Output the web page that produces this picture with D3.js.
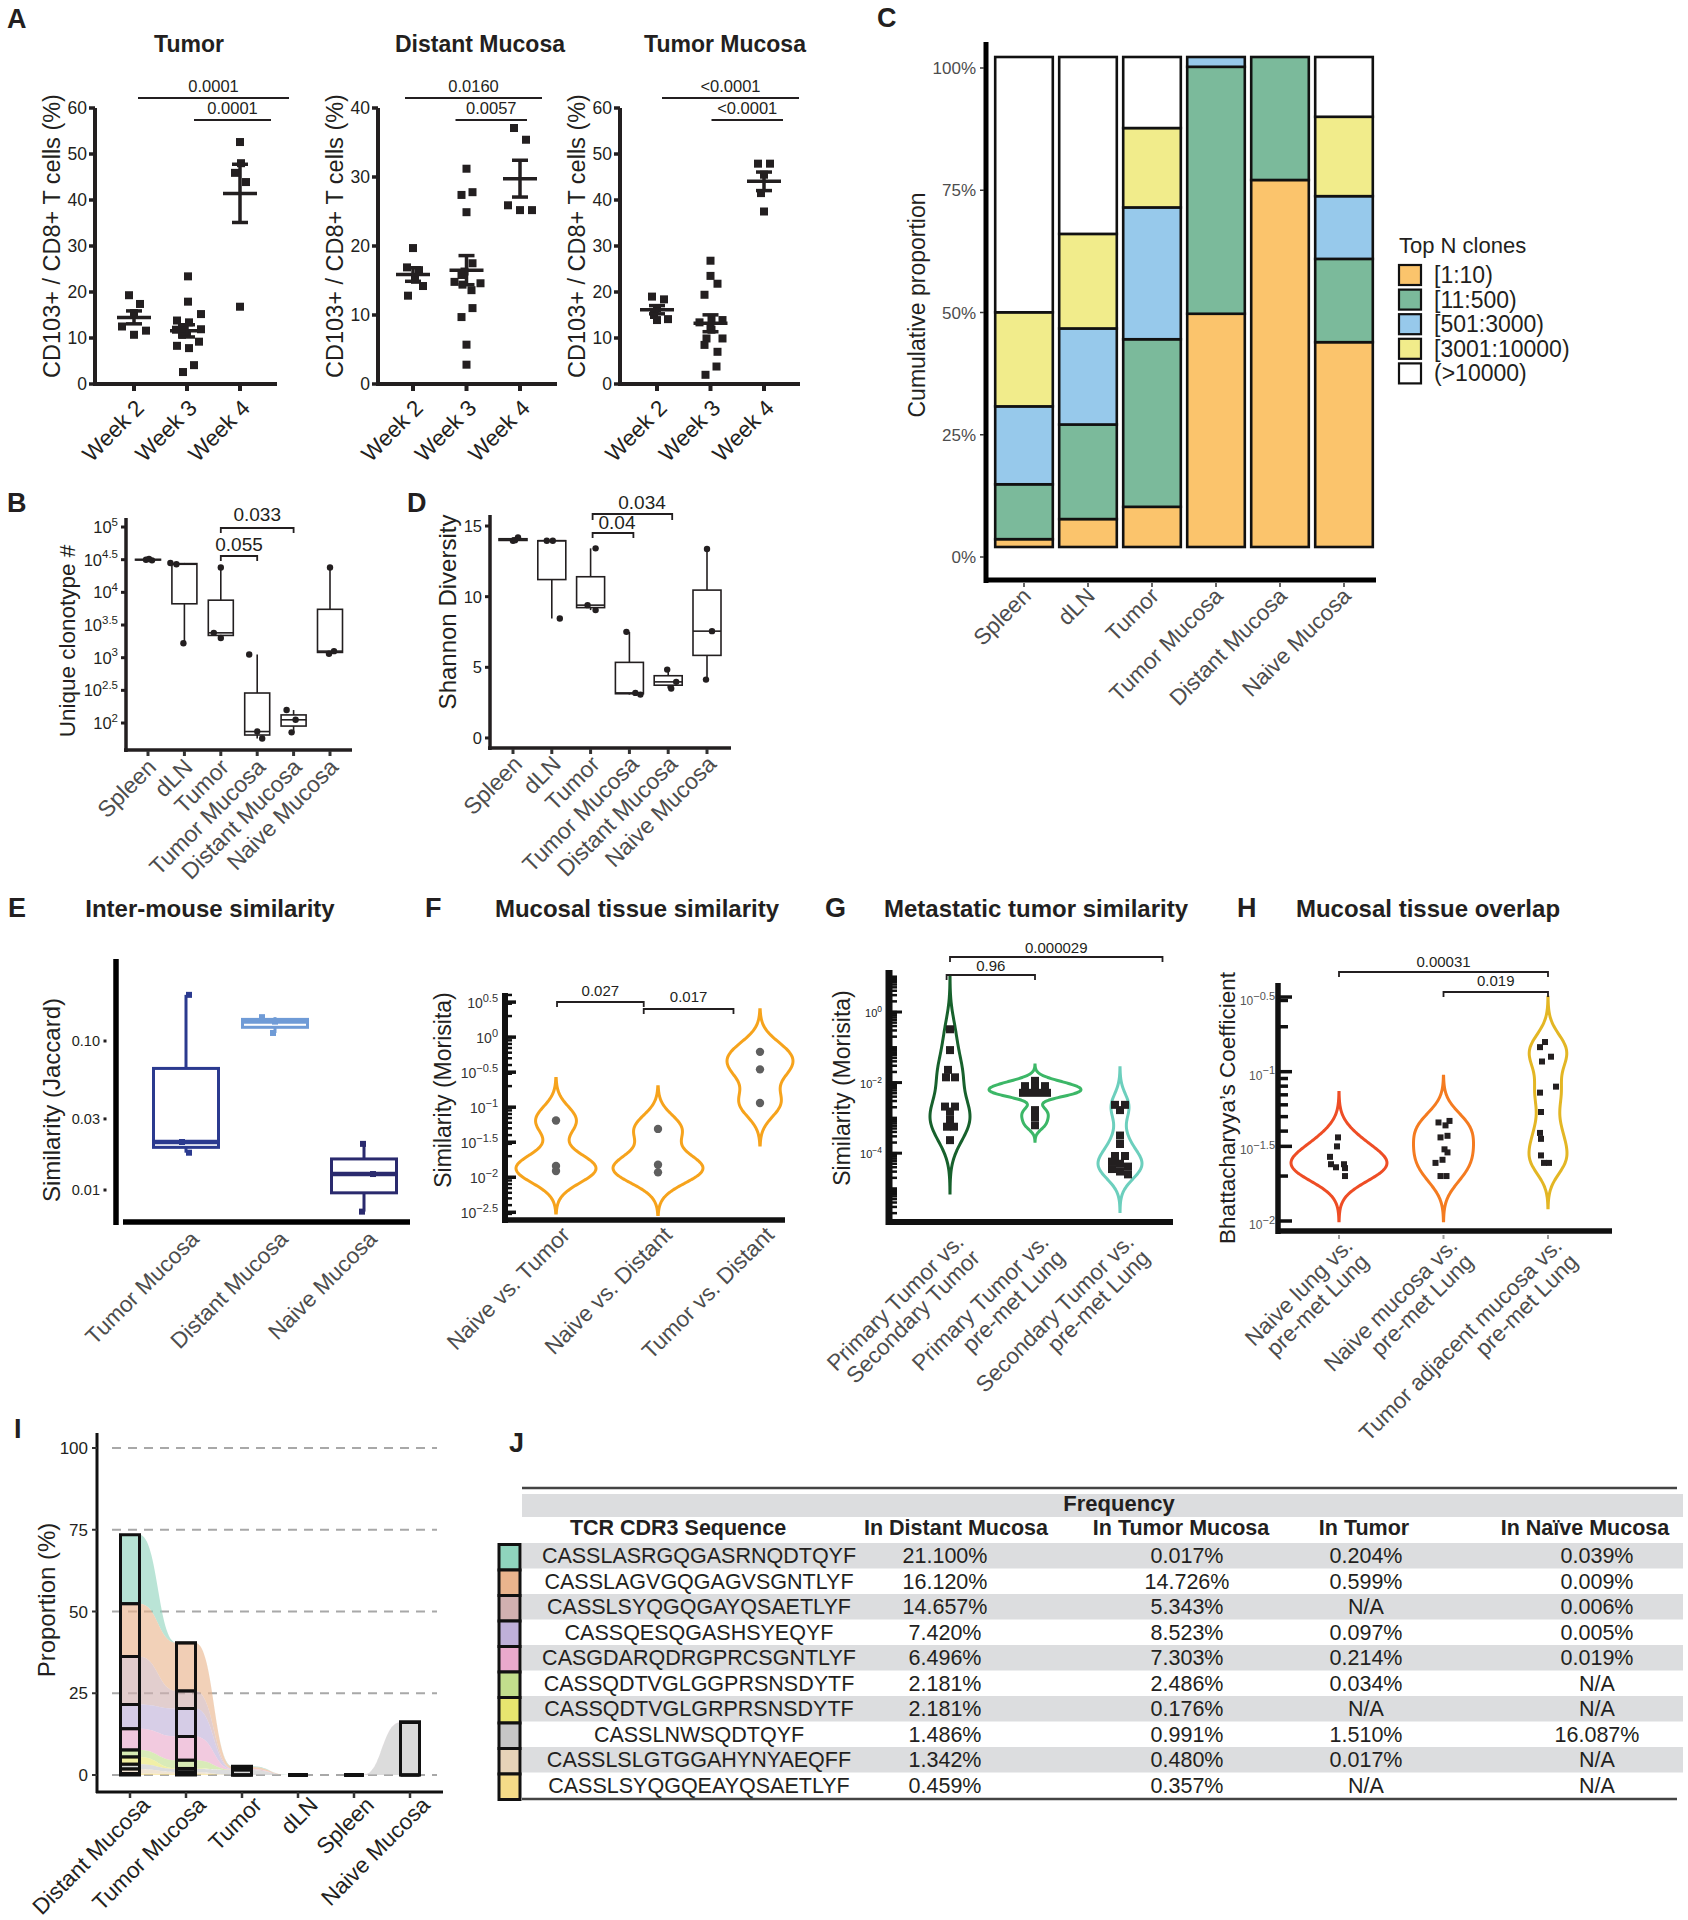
<!DOCTYPE html>
<html>
<head>
<meta charset="utf-8">
<script src="https://cdn.jsdelivr.net/npm/d3@7/dist/d3.min.js"></script>
<style>
html,body{margin:0;padding:0;background:#fff;}
svg text{font-family:"Liberation Sans",Arial,Helvetica,sans-serif;}
</style>
</head>
<body>
<svg id="fig" width="1688" height="1920" xmlns="http://www.w3.org/2000/svg"></svg>
<script>
// ================= DATA =================
// Panel A
const weeks = ["Week 2", "Week 3", "Week 4"];
const tumorW2 = [19.3, 17.4, 15.4, 12.5, 11.6, 10.7];
const tumorW3 = [23.4, 17.9, 15.2, 13.8, 13.4, 12.2, 11.8, 11.9, 11.0, 10.7, 9.2, 8.3, 7.8, 4.1, 2.6];
const tumorW4 = [52.6, 48.0, 45.9, 43.9, 16.8];
const distantW2 = [19.7, 16.9, 16.5, 15.1, 14.2, 12.8];
const distantW3 = [31.2, 27.4, 27.8, 24.9, 17.5, 16.3, 14.8, 14.4, 14.6, 13.6, 9.7, 11.0, 5.7, 2.8, 15.8];
const distantW4 = [37.1, 35.4, 25.9, 25.2, 25.2];
const tumorMucW2 = [19.0, 18.4, 16.5, 15.0, 14.1, 13.9];
const tumorMucW3 = [26.8, 23.5, 21.8, 19.4, 13.4, 13.9, 14.3, 12.0, 9.9, 9.9, 8.5, 7.0, 3.8, 2.0, 11.8];
const tumorMucW4 = [47.9, 47.9, 45.5, 41.5, 37.5];

// Panels B, C, D
const tissues = ["Spleen", "dLN", "Tumor", "Tumor Mucosa", "Distant Mucosa", "Naive Mucosa"];
const uniqueClonotypes = [[31600, 30900, 32400], [28200, 26900, 1660], [24000, 2400, 2000], [1120, 74, 58], [158, 112, 72], [24000, 1150, 1260]];
const shannon = [[13.96, 14.2, 14.0], [13.96, 13.96, 8.46], [13.42, 9.4, 9.05], [7.51, 3.19, 3.07], [4.84, 3.97, 3.5], [13.37, 7.56, 4.13]];
const cGroups = ["[1:10)", "[11:500)", "[501:3000)", "[3001:10000)", "(>10000)"];
const cTop10 = [0.016, 0.057, 0.082, 0.476, 0.749, 0.418];
const cTop500 = [0.112, 0.193, 0.342, 0.504, 0.251, 0.170];
const cTop3000 = [0.159, 0.196, 0.269, 0.020, 0, 0.128];
const cTop10000 = [0.192, 0.193, 0.162, 0, 0, 0.162];
const cRest = [0.521, 0.361, 0.145, 0, 0, 0.122];
const cTicks = [0, 0.25, 0.5, 0.75, 1];
const bTickExps = ["2", "2.5", "3", "3.5", "4", "4.5", "5"];
const dTicks = [0, 5, 10, 15];

// Panel E
const eGroups = ["Tumor Mucosa", "Distant Mucosa", "Naive Mucosa"];
const jaccard = [[0.204, 0.021, 0.0178], [0.1445, 0.1349, 0.1132], [0.0204, 0.0128, 0.00716]];
const eTicks = [[0.01, "0.01"], [0.03, "0.03"], [0.1, "0.10"]];

// Panel F
const fPairs = ["Naive vs. Tumor", "Naive vs. Distant", "Tumor vs. Distant"];
const morisitaMucosal = [[0.0646, 0.0145, 0.0123], [0.049, 0.0151, 0.01175], [0.6166, 0.3467, 0.1148]];
const fTickExps = [0.5, 0, -0.5, -1, -1.5, -2, -2.5];

// Panel G
const gPairs = [["Primary Tumor vs.", "Secondary Tumor"], ["Primary Tumor vs.", "pre-met Lung"], ["Secondary Tumor vs.", "pre-met Lung"]];
const morisitaMet = [
  [0.324, 0.0832, 0.0229, 0.0141, 0.0141, 0.00209, 0.00209, 0.00151, 0.000912, 0.000562, 0.000562, 0.000234],
  [0.0112, 0.00794, 0.00794, 0.00794, 0.00513, 0.00513, 0.00513, 0.00513, 0.00166, 0.00105, 0.000617],
  [0.00234, 0.00234, 0.00166, 0.000316, 0.000182, 0.0000832, 0.0000832, 0.0000575, 0.0000501, 0.0000417, 0.0000355, 0.0000302, 0.0000251]
];
const gTickExps = [0, -2, -4];

// Panel H
const hPairs = [["Naive lung vs.", "pre-met Lung"], ["Naive mucosa vs.", "pre-met Lung"], ["Tumor adjacent mucosa vs.", "pre-met Lung"]];
const bhattacharyya = [
  [0.0363, 0.0316, 0.0269, 0.0240, 0.0229, 0.0240, 0.0226, 0.0200],
  [0.0468, 0.0457, 0.0437, 0.0363, 0.0372, 0.0302, 0.0288, 0.0245, 0.0257, 0.0200, 0.0200],
  [0.158, 0.146, 0.126, 0.117, 0.0794, 0.0724, 0.0537, 0.0389, 0.0355, 0.0275, 0.0245, 0.0245]
];
const hTickExps = [-0.5, -1, -1.5, -2];
const hMinorTicks = [0.3, 0.2, 0.09, 0.08, 0.07, 0.06, 0.05, 0.04, 0.02];

// Panels I & J
const cdr3 = ["CASSLASRGQGASRNQDTQYF", "CASSLAGVGQGAGVSGNTLYF", "CASSLSYQGQGAYQSAETLYF", "CASSQESQGASHSYEQYF", "CASGDARQDRGPRCSGNTLYF",
  "CASSQDTVGLGGPRSNSDYTF", "CASSQDTVGLGRPRSNSDYTF", "CASSLNWSQDTQYF", "CASSLSLGTGGAHYNYAEQFF", "CASSLSYQGQEAYQSAETLYF"];
const freqDistant = [21.100, 16.120, 14.657, 7.420, 6.496, 2.181, 2.181, 1.486, 1.342, 0.459];
const freqTumorMucosa = [0.017, 14.726, 5.343, 8.523, 7.303, 2.486, 0.176, 0.991, 0.480, 0.357];
const freqTumor = [0.204, 0.599, null, 0.097, 0.214, 0.034, null, 1.510, 0.017, null];
const freqNaive = [0.039, 0.009, 0.006, 0.005, 0.019, null, null, 16.087, null, null];
const freqDLN = [0, 0, 0, 0, 0, 0, 0, 0, 0, 0];
const freqSpleen = [0, 0, 0, 0, 0, 0, 0, 0, 0, 0];
const iTissues = ["Distant Mucosa", "Tumor Mucosa", "Tumor", "dLN", "Spleen", "Naive Mucosa"];
const iTicks = [0, 25, 50, 75, 100];

// ================= STYLE =================
const INK = "#231f20", GREY = "#4d4d4d";
const cColors = ["#fbc46c", "#7bba9b", "#97c9eb", "#f1ec8b", "#ffffff"];
const eColors = ["#2b3a8f", "#6f9bd6", "#2a2a6e"];
const fColor = "#f6a31c";
const gColors = ["#17612c", "#3cb767", "#6ccfbd"];
const hColors = ["#ee4d25", "#f47b20", "#e3b624"];
const cloneColors = ["#8fd4bd", "#eab48d", "#d1b0b0", "#bfb0d9", "#eaa9cc", "#c2de8c", "#e8e56f", "#c6c6c6", "#e6d3b8", "#f5dc88"];
const tumorJit = [[-5, 6, 0, -12, 12, 0], [1, 1, 14, -10, 2, -5, -11, 14, 0, -5, 12, -10, 2, 7, -4], [0, 1, -5, 6, 0]];
const distantJit = [[0, -6, 6, 2, 10, -5], [0, -5, 6, 0, 6, -2, -12, -4, 14, 5, -5, 6, 0, 0, -5], [-6, 6, -12, 0, 12]];
const tumorMucJit = [[-5, 7, 0, -3, 11, 0], [0, 0, 7, -6, -11, 12, 1, 0, -4, 12, -6, 7, 6, -5, 1], [-6, 6, 0, -3, 0]];
const bJit = [[-2, 4, 1], [-14, -8, -1], [0, -7, 0], [-8, 0, 5], [-7, 2, -2], [0, -1, 4]];
const dJit = [[0, 5, 2], [-5, 1, 8], [5, -3, 5], [-3, 6, 11], [-1, 8, 3], [0, 5, -1]];
const eJit = [[3, -4, 3], [-13, 0, -2], [-1, 9, -2]];
const gJit = [[0, 0, -2, -4, 5, -5, 5, 0, 0, -3, 4, 0], [0, -10, 0, 10, -12, -4, 4, 12, 0, 0, 0], [-5, 5, 0, 0, 0, -5, 5, -8, 0, 8, -8, 0, 8]];
const hJit = [[-1, -2, -9, -8, -3, 5, 6, 6], [6, -5, 2, -3, 4, 1, 4, -8, -1, -3, 3], [-3, -8, 3, -6, 8, -8, -7, -8, -7, -7, -4, 1]];
const fBw = [0.2, 0.2, 0.2], gBw = [0.5, 0.15, 0.35], hBw = [0.1, 0.1, 0.1];
const fHalfW = [40, 45, 33], gHalfW = [20, 46, 22], hHalfW = [48, 30, 19];

// ================= HELPERS =================
const svg = d3.select("#fig");
svg.append("rect").attr("width", 1688).attr("height", 1920).attr("fill", "#fff");

function T(g, x, y, s, size, o = {}) {
  const t = g.append("text").attr("x", x).attr("y", y).attr("font-size", size)
    .attr("fill", o.fill || INK).attr("text-anchor", o.anchor || "start");
  if (o.weight) t.attr("font-weight", o.weight);
  t.text(s);
  return t;
}
function VT(g, cx, cy, s, size, o = {}) {
  return g.append("text").attr("transform", `translate(${cx},${cy}) rotate(-90)`)
    .attr("text-anchor", "middle").attr("dy", "0.35em").attr("font-size", size)
    .attr("fill", o.fill || INK).text(s);
}
function L(g, x1, y1, x2, y2, w, c) {
  return g.append("line").attr("x1", x1).attr("y1", y1).attr("x2", x2).attr("y2", y2)
    .attr("stroke", c || INK).attr("stroke-width", w);
}
function rotLabels(g, entries, y, size, fill) {
  entries.forEach(e => {
    const t = g.append("text").attr("transform", `translate(${e.x},${y}) rotate(-45)`)
      .attr("text-anchor", "end").attr("font-size", size).attr("fill", fill);
    e.lines.forEach((ln, i) => t.append("tspan").attr("x", 0).attr("dy", i === 0 ? "0.71em" : "1em").text(ln));
  });
}
function pow10(g, x, y, exp, base, sup, fill) {
  const t = g.append("text").attr("x", x).attr("y", y).attr("text-anchor", "end")
    .attr("font-size", base).attr("fill", fill);
  t.append("tspan").text("10");
  t.append("tspan").attr("font-size", sup).attr("dy", -base * 0.45).text(exp);
}
function expStr(e) { return (e < 0 ? "\u2212" : "") + Math.abs(e); }
function bracket(g, x0, x1, y, drop, label, size, ty, tx) {
  g.append("path").attr("d", `M${x0},${y + drop}V${y}H${x1}V${y + drop}`)
    .attr("fill", "none").attr("stroke", INK).attr("stroke-width", 1.8);
  T(g, tx != null ? tx : (x0 + x1) / 2, ty, label, size, { anchor: "middle" });
}
function letter(l, x, y) { T(svg, x, y, l, 27, { weight: "bold" }); }
function violin(g, values, cx, yScale, bw, halfW, color) {
  const lv = values.map(Math.log10);
  const lo = d3.min(lv) - 3 * bw, hi = d3.max(lv) + 3 * bw, n = 140;
  const pts = d3.range(n + 1).map(i => {
    const t = lo + (hi - lo) * i / n;
    return [t, d3.sum(lv, v => Math.exp(-0.5 * ((t - v) / bw) ** 2))];
  });
  const maxD = d3.max(pts, d => d[1]);
  const area = d3.area().y(d => yScale(10 ** d[0]))
    .x0(d => cx - d[1] / maxD * halfW).x1(d => cx + d[1] / maxD * halfW).curve(d3.curveBasis);
  g.append("path").attr("d", area(pts)).attr("fill", "none").attr("stroke", color).attr("stroke-width", 3);
}
function comb(g, axisX, yScale, lo, hi, len, w) {
  for (let n = Math.floor(lo) - 1; n <= Math.ceil(hi); n++) {
    for (let k = 1; k <= 9; k++) {
      const v = k * 10 ** n, l = Math.log10(v);
      if (l < lo || l > hi) continue;
      L(g, axisX, yScale(v), axisX + len, yScale(v), w, "#111");
    }
  }
}

// ================= PANEL A =================
letter("A", 7, 28);
const aPanels = [
  { title: "Tumor", groups: [tumorW2, tumorW3, tumorW4], jit: tumorJit, yMax: 60, axisX: 95, xr: [134, 240], xEnd: 277, titleX: 189,
    sig: [{ a: "Week 2", da: 4, b: "Week 4", db: 49, y: 98, label: "0.0001" }, { a: "Week 3", da: 7, b: "Week 4", db: 31, y: 120, label: "0.0001" }] },
  { title: "Distant Mucosa", groups: [distantW2, distantW3, distantW4], jit: distantJit, yMax: 40, axisX: 378, xr: [413, 520], xEnd: 557, titleX: 480,
    sig: [{ a: "Week 2", da: -8, b: "Week 4", db: 22, y: 98, label: "0.0160" }, { a: "Week 3", da: -11, b: "Week 4", db: 7, y: 120, label: "0.0057" }] },
  { title: "Tumor Mucosa", groups: [tumorMucW2, tumorMucW3, tumorMucW4], jit: tumorMucJit, yMax: 60, axisX: 620, xr: [657, 764], xEnd: 800, titleX: 725,
    sig: [{ a: "Week 2", da: 5, b: "Week 4", db: 35, y: 98, label: "<0.0001" }, { a: "Week 3", da: 1, b: "Week 4", db: 19, y: 120, label: "<0.0001" }] }
];
aPanels.forEach(p => {
  const g = svg.append("g");
  const y = d3.scaleLinear().domain([0, p.yMax]).range([384, 108]);
  const x = d3.scalePoint().domain(weeks).range(p.xr);
  L(g, p.axisX, y(p.yMax), p.axisX, y(0) + 2, 4);
  L(g, p.axisX - 2, y(0), p.xEnd, y(0), 4);
  d3.range(0, p.yMax + 1, 10).forEach(v => {
    L(g, p.axisX - 6, y(v), p.axisX, y(v), 3.5);
    T(g, p.axisX - 8, y(v) + 6, v, 17.5, { anchor: "end" });
  });
  weeks.forEach(w => L(g, x(w), y(0), x(w), y(0) + 7, 4));
  p.groups.forEach((arr, gi) => {
    const cx = x(weeks[gi]);
    g.selectAll(null).data(arr).join("rect")
      .attr("x", (d, i) => cx + p.jit[gi][i] - 4).attr("y", d => y(d) - 4)
      .attr("width", 8).attr("height", 8).attr("fill", INK);
    const m = d3.mean(arr), se = d3.deviation(arr) / Math.sqrt(arr.length);
    L(g, cx - 17, y(m), cx + 17, y(m), 3.5);
    L(g, cx, y(m - se), cx, y(m + se), 3.5);
    L(g, cx - 8, y(m - se), cx + 8, y(m - se), 3.5);
    L(g, cx - 8, y(m + se), cx + 8, y(m + se), 3.5);
  });
  T(g, p.titleX, 52, p.title, 23, { anchor: "middle", weight: "bold" });
  VT(g, p.axisX - 43, 236, "CD103+ / CD8+ T cells (%)", 23.5);
  p.sig.forEach(s => {
    const x0 = x(s.a) + s.da, x1 = x(s.b) + s.db;
    L(g, x0, s.y, x1, s.y, 2);
    T(g, (x0 + x1) / 2, s.y - 6, s.label, 16.5, { anchor: "middle" });
  });
  rotLabels(g, weeks.map(w => ({ x: x(w), lines: [w] })), 398, 22.5, INK);
});

// ================= PANEL C =================
letter("C", 877, 27);
{
  const g = svg.append("g");
  const x = d3.scaleBand().domain(tissues).range([992, 1376]).paddingInner(0.1).paddingOuter(0.05);
  const yAxis = d3.scaleLinear().domain([0, 1]).range([557, 68]);
  const yBar = d3.scaleLinear().domain([0, 1]).range([547, 57]);
  const series = [cTop10, cTop500, cTop3000, cTop10000, cRest];
  const rows = tissues.map((t, i) => { const o = { tissue: t }; cGroups.forEach((k, j) => o[k] = series[j][i]); return o; });
  const stack = d3.stack().keys(cGroups)(rows);
  stack.forEach((layer, li) => layer.forEach((seg, ti) => {
    if (seg[1] - seg[0] <= 0) return;
    g.append("rect").attr("x", x(tissues[ti])).attr("y", yBar(seg[1])).attr("width", x.bandwidth())
      .attr("height", yBar(seg[0]) - yBar(seg[1])).attr("fill", cColors[li]).attr("stroke", "#111").attr("stroke-width", 2.6);
  }));
  L(g, 986, 42, 986, 583, 5, "#000");
  L(g, 984, 580, 1376, 580, 5, "#000");
  cTicks.forEach(v => {
    L(g, 980, yAxis(v), 984, yAxis(v), 1.5, "#333");
    T(g, 976, yAxis(v) + 6, d3.format(".0%")(v), 17, { anchor: "end", fill: GREY });
  });
  tissues.forEach(t => L(g, x(t) + x.bandwidth() / 2, 583, x(t) + x.bandwidth() / 2, 587, 1.5, "#333"));
  VT(g, 917, 305, "Cumulative proportion", 23);
  rotLabels(g, tissues.map(t => ({ x: x(t) + x.bandwidth() / 2 - 3, lines: [t] })), 586, 22.5, GREY);
  T(g, 1399, 253, "Top N clones", 22);
  cGroups.forEach((k, i) => {
    const cy = 275 + i * 24.6;
    g.append("rect").attr("x", 1399).attr("y", cy - 10).attr("width", 22).attr("height", 20)
      .attr("fill", cColors[i]).attr("stroke", "#111").attr("stroke-width", 2.2);
    T(g, 1434, cy + 8, k, 23);
  });
}

// ================= PANELS B & D =================
function boxPanel(p) {
  const g = svg.append("g");
  const x = d3.scalePoint().domain(tissues).range(p.xr);
  p.data.forEach((arr, i) => {
    const tv = arr.map(p.tf).sort(d3.ascending);
    const q1 = d3.quantile(tv, .25), md = d3.quantile(tv, .5), q3 = d3.quantile(tv, .75);
    const cx = x(tissues[i]), Y = v => p.y(p.inv(v));
    L(g, cx, Y(tv[0]), cx, Y(q1), 1.6);
    L(g, cx, Y(q3), cx, Y(tv[tv.length - 1]), 1.6);
    g.append("rect").attr("x", cx - p.bw / 2).attr("y", Y(q3)).attr("width", p.bw).attr("height", Math.max(0, Y(q1) - Y(q3)))
      .attr("fill", "#fff").attr("stroke", INK).attr("stroke-width", 1.6);
    L(g, cx - p.bw / 2, Y(md), cx + p.bw / 2, Y(md), 1.6);
    arr.forEach((v, j) => g.append("circle").attr("cx", cx + p.jit[i][j]).attr("cy", p.y(v)).attr("r", 3.2).attr("fill", INK));
  });
  L(g, p.axisX, p.yTop, p.axisX, p.axisY + 2, 3.5);
  L(g, p.axisX - 2, p.axisY, p.xEnd, p.axisY, 3.5);
  tissues.forEach(t => L(g, x(t), p.axisY + 1, x(t), p.axisY + 6, 3, "#333"));
  return { g, x };
}
letter("B", 7, 512);
{
  const y = d3.scaleLog().domain([10 ** 1.587, 10 ** 5.138]).range([750, 518]);
  const { g, x } = boxPanel({ data: uniqueClonotypes, jit: bJit, y, tf: Math.log10, inv: v => 10 ** v, xr: [148, 330], bw: 25,
    axisX: 126, axisY: 750, yTop: 518, xEnd: 352 });
  bTickExps.forEach(e => {
    const yv = y(10 ** (+e));
    L(g, 121, yv, 126, yv, 3);
    pow10(g, 118, yv + 6, e, 16.5, 11.5, INK);
  });
  VT(g, 67, 641, "Unique clonotype #", 22.5);
  rotLabels(g, tissues.map(t => ({ x: x(t) - 2, lines: [t] })), 757, 23, GREY);
  bracket(g, x("Tumor"), x("Distant Mucosa"), 528, 5, "0.033", 19, 521);
  bracket(g, x("Tumor"), x("Tumor Mucosa"), 556, 5, "0.055", 19, 551);
}
letter("D", 407, 512);
{
  const y = d3.scaleLinear().domain([-0.71, 15.78]).range([748, 515]);
  const { g, x } = boxPanel({ data: shannon, jit: dJit, y, tf: v => v, inv: v => v, xr: [513, 707], bw: 28,
    axisX: 490, axisY: 748, yTop: 515, xEnd: 731 });
  dTicks.forEach(v => {
    L(g, 485, y(v), 490, y(v), 3);
    T(g, 482, y(v) + 6, v, 16.5, { anchor: "end" });
  });
  VT(g, 448, 612, "Shannon Diversity", 24);
  rotLabels(g, tissues.map(t => ({ x: x(t) - 1, lines: [t] })), 754, 23, GREY);
  bracket(g, x("Tumor") + 2, x("Distant Mucosa") + 4, 514, 6, "0.034", 19, 509, 642);
  bracket(g, x("Tumor") + 2, x("Tumor Mucosa") + 4, 533, 5, "0.04", 19, 529, 617);
}

// ================= PANEL E =================
letter("E", 8, 917);
{
  const g = svg.append("g");
  const y = d3.scaleLog().domain([0.0061, 0.355]).range([1222, 959]);
  const x = d3.scalePoint().domain(eGroups).range([186, 364]);
  const bw = 65;
  jaccard.forEach((arr, i) => {
    const lv = arr.map(Math.log10).sort(d3.ascending);
    const q1 = d3.quantile(lv, .25), md = d3.quantile(lv, .5), q3 = d3.quantile(lv, .75);
    const cx = x(eGroups[i]), c = eColors[i], Y = v => y(10 ** v);
    L(g, cx, Y(lv[0]), cx, Y(q1), 3, c);
    L(g, cx, Y(q3), cx, Y(lv[2]), 3, c);
    g.append("rect").attr("x", cx - bw / 2).attr("y", Y(q3)).attr("width", bw).attr("height", Y(q1) - Y(q3))
      .attr("fill", "#fff").attr("stroke", c).attr("stroke-width", 3);
    L(g, cx - bw / 2, Y(md), cx + bw / 2, Y(md), 4.5, c);
    arr.forEach((v, j) => g.append("rect").attr("x", cx + eJit[i][j] - 3).attr("y", y(v) - 3).attr("width", 6).attr("height", 6).attr("fill", c));
  });
  L(g, 116, 959, 116, 1225, 5.5, "#000");
  L(g, 123, 1222, 410, 1222, 5.5, "#000");
  eTicks.forEach(([v, s]) => {
    T(g, 100, y(v) + 5, s, 14.5, { anchor: "end" });
    g.append("rect").attr("x", 103.5).attr("y", y(v) - 1.5).attr("width", 3).attr("height", 3).attr("fill", INK);
  });
  T(g, 210, 917, "Inter-mouse similarity", 24, { anchor: "middle", weight: "bold" });
  VT(g, 52, 1100, "Similarity (Jaccard)", 24);
  rotLabels(g, eGroups.map(e => ({ x: x(e) + 3, lines: [e] })), 1229, 22.5, GREY);
}

// ================= PANEL F =================
letter("F", 425, 917);
{
  const g = svg.append("g");
  const lo = -2.61, hi = 0.63;
  const y = d3.scaleLog().domain([10 ** lo, 10 ** hi]).range([1220, 993]);
  const x = d3.scalePoint().domain(fPairs).range([556, 760]);
  const idx = d3.scaleLinear().domain([0, 2]).range([556, 760]);
  morisitaMucosal.forEach((arr, i) => {
    const cx = x(fPairs[i]);
    violin(g, arr, cx, y, fBw[i], fHalfW[i], fColor);
    arr.forEach(v => g.append("circle").attr("cx", cx).attr("cy", y(v)).attr("r", 4.2).attr("fill", "#5f5f5f"));
  });
  L(g, 505, 993, 505, 1223, 6, "#111");
  comb(g, 505, y, lo, hi, 7, 2.5);
  fTickExps.forEach(e => {
    L(g, 505, y(10 ** e), 516, y(10 ** e), 3.5, "#111");
    pow10(g, 498, y(10 ** e) + 6, expStr(e), 14, 11, "#333");
  });
  L(g, 503, 1220, 785, 1220, 5.5, "#111");
  bracket(g, idx(0.01), idx(0.86), 1002, 5, "0.027", 15, 996);
  bracket(g, idx(0.86), idx(1.74), 1009, 5, "0.017", 15, 1002);
  T(g, 637, 917, "Mucosal tissue similarity", 24, { anchor: "middle", weight: "bold" });
  VT(g, 443, 1090, "Similarity (Morisita)", 23);
  rotLabels(g, fPairs.map(f => ({ x: x(f) + 4, lines: [f] })), 1225, 22.5, GREY);
}

// ================= PANEL G =================
letter("G", 825, 917);
{
  const g = svg.append("g");
  const lo = -5.95, hi = 1.19;
  const y = d3.scaleLog().domain([10 ** lo, 10 ** hi]).range([1222, 970]);
  const x = d3.scalePoint().domain([0, 1, 2]).range([950, 1120]);
  const idx = d3.scaleLinear().domain([0, 2]).range([950, 1120]);
  morisitaMet.forEach((arr, i) => {
    const cx = x(i);
    violin(g, arr, cx, y, gBw[i], gHalfW[i], gColors[i]);
    arr.forEach((v, j) => g.append("rect").attr("x", cx + gJit[i][j] - 4).attr("y", y(v) - 4).attr("width", 8).attr("height", 8).attr("fill", INK));
  });
  L(g, 889, 970, 889, 1225, 7, "#111");
  comb(g, 889, y, lo, hi, 8, 2.5);
  gTickExps.forEach(e => {
    L(g, 889, y(10 ** e), 902, y(10 ** e), 3, "#111");
    pow10(g, 882, y(10 ** e) + 5, expStr(e), 11, 8.5, "#222");
  });
  L(g, 886, 1222, 1173, 1222, 6, "#111");
  bracket(g, idx(0), idx(2.5), 957, 5, "0.000029", 15, 953);
  bracket(g, idx(-0.04), idx(1), 975, 5, "0.96", 15, 971);
  T(g, 1036, 917, "Metastatic tumor similarity", 24, { anchor: "middle", weight: "bold" });
  VT(g, 842, 1088, "Similarity (Morisita)", 23);
  rotLabels(g, gPairs.map((p, i) => ({ x: x(i) + 4, lines: p })), 1232, 22.5, GREY);
}

// ================= PANEL H =================
letter("H", 1237, 917);
{
  const g = svg.append("g");
  const y = d3.scaleLog().domain([10 ** -2.067, 10 ** -0.406]).range([1231, 983]);
  const x = d3.scalePoint().domain([0, 1, 2]).range([1339, 1548]);
  bhattacharyya.forEach((arr, i) => {
    const cx = x(i);
    violin(g, arr, cx, y, hBw[i], hHalfW[i], hColors[i]);
    arr.forEach((v, j) => g.append("rect").attr("x", cx + hJit[i][j] - 3).attr("y", y(v) - 3).attr("width", 6).attr("height", 6).attr("fill", INK));
  });
  L(g, 1278, 983, 1278, 1234, 5.5, "#111");
  hMinorTicks.forEach(v => L(g, 1278, y(v), 1288, y(v), 3.5, "#111"));
  hTickExps.forEach(e => {
    L(g, 1278, y(10 ** e), 1292, y(10 ** e), 3.5, "#111");
    pow10(g, 1275, y(10 ** e) + 8, expStr(e), 12, 11, "#555");
  });
  L(g, 1276, 1231, 1612, 1231, 5.5, "#111");
  [0, 1, 2].forEach(i => L(g, x(i), 1235, x(i), 1239, 2, "#999"));
  bracket(g, x(0), x(2), 972, 5, "0.00031", 15, 967);
  bracket(g, x(1), x(2), 992, 5, "0.019", 15, 986);
  T(g, 1428, 917, "Mucosal tissue overlap", 24, { anchor: "middle", weight: "bold" });
  VT(g, 1227, 1108, "Bhattacharyya\u2019s Coefficient", 22.5);
  rotLabels(g, hPairs.map((p, i) => ({ x: x(i) + 4, lines: p })), 1236, 22.5, GREY);
}

// ================= PANEL I =================
letter("I", 14, 1438);
{
  const g = svg.append("g");
  const y = d3.scaleLinear().domain([0, 100]).range([1775, 1448]);
  const x = d3.scalePoint().domain(iTissues).range([130, 410]);
  const bw = 19;
  const freqByTissue = [freqDistant, freqTumorMucosa, freqTumor, freqDLN, freqSpleen, freqNaive];
  const segs = freqByTissue.map(arr => {
    let cum = 0; const out = [];
    for (let k = arr.length - 1; k >= 0; k--) { const v = arr[k] || 0; out[k] = [cum, cum + v]; cum += v; }
    return out;
  });
  iTicks.forEach(v => L(g, 112, y(v), 437, y(v), 2.2, "#a8a8a8").attr("stroke-dasharray", "9,7"));
  for (let t = 0; t < iTissues.length - 1; t++) {
    const xa = x(iTissues[t]) + bw / 2, xb = x(iTissues[t + 1]) - bw / 2, xm = (xa + xb) / 2;
    for (let k = 0; k < cdr3.length; k++) {
      const [a0, a1] = segs[t][k], [b0, b1] = segs[t + 1][k];
      if (a1 - a0 <= 0 && b1 - b0 <= 0) continue;
      const d = `M${xa},${y(a1)}C${xm},${y(a1)} ${xm},${y(b1)} ${xb},${y(b1)}L${xb},${y(b0)}C${xm},${y(b0)} ${xm},${y(a0)} ${xa},${y(a0)}Z`;
      g.append("path").attr("d", d).attr("fill", cloneColors[k]).attr("fill-opacity", 0.62);
    }
  }
  segs.forEach((arr, t) => arr.forEach((s, k) => {
    const cx = x(iTissues[t]);
    g.append("path").attr("d", `M${cx - bw / 2},${y(s[0])}H${cx + bw / 2}V${y(s[1])}H${cx - bw / 2}Z`)
      .attr("fill", cloneColors[k]).attr("fill-opacity", 0.65).attr("stroke", "#111").attr("stroke-width", 3);
  }));
  L(g, 97, 1433, 97, 1793, 3, "#111");
  L(g, 96, 1792, 443, 1792, 3, "#111");
  iTicks.forEach(v => { L(g, 92, y(v), 97, y(v), 2, "#333"); T(g, 88, y(v) + 6, v, 17, { anchor: "end" }); });
  iTissues.forEach(t => L(g, x(t), 1792, x(t), 1798, 2.5, "#333"));
  VT(g, 47, 1600, "Proportion (%)", 24);
  rotLabels(g, iTissues.map(t => ({ x: x(t) + 10, lines: [t] })), 1795, 22.5, INK);
}

// ================= PANEL J =================
letter("J", 509, 1452);
{
  const g = svg.append("g");
  const x0 = 522, x1 = 1683;
  L(g, x0, 1488, 1677, 1488, 2.5, "#444");
  g.append("rect").attr("x", x0).attr("y", 1494).attr("width", x1 - x0).attr("height", 23).attr("fill", "#dcdddf");
  T(g, 1119, 1511, "Frequency", 22, { anchor: "middle", weight: "bold" });
  const heads = [["TCR CDR3 Sequence", 678], ["In Distant Mucosa", 956], ["In Tumor Mucosa", 1181], ["In Tumor", 1364], ["In Na\u00efve Mucosa", 1585]];
  heads.forEach(([s, cx]) => T(g, cx, 1535, s, 21.5, { anchor: "middle", weight: "bold" }));
  const rowY = d3.scaleBand().domain(d3.range(cdr3.length)).range([1543, 1798]);
  const fmt = v => v == null ? "N/A" : d3.format(".3f")(v) + "%";
  const cols = [[cdr3, 699], [freqDistant, 945], [freqTumorMucosa, 1187], [freqTumor, 1366], [freqNaive, 1597]];
  cdr3.forEach((s, i) => {
    const ry = rowY(i), h = rowY.bandwidth();
    if (i % 2 === 0) g.append("rect").attr("x", x0).attr("y", ry).attr("width", x1 - x0).attr("height", h).attr("fill", "#dcdddf");
    cols.forEach(([arr, cx], ci) => T(g, cx, ry + h / 2 + 7.5, ci === 0 ? arr[i] : fmt(arr[i]), 21.5, { anchor: "middle" }));
  });
  cdr3.forEach((s, i) => {
    g.append("rect").attr("x", 499).attr("y", rowY(i) + 1.5).attr("width", 21).attr("height", rowY.bandwidth())
      .attr("fill", cloneColors[i]).attr("stroke", "#111").attr("stroke-width", 3);
  });
  L(g, x0, 1799, 1677, 1799, 2.5, "#444");
}
</script>
</body>
</html>
